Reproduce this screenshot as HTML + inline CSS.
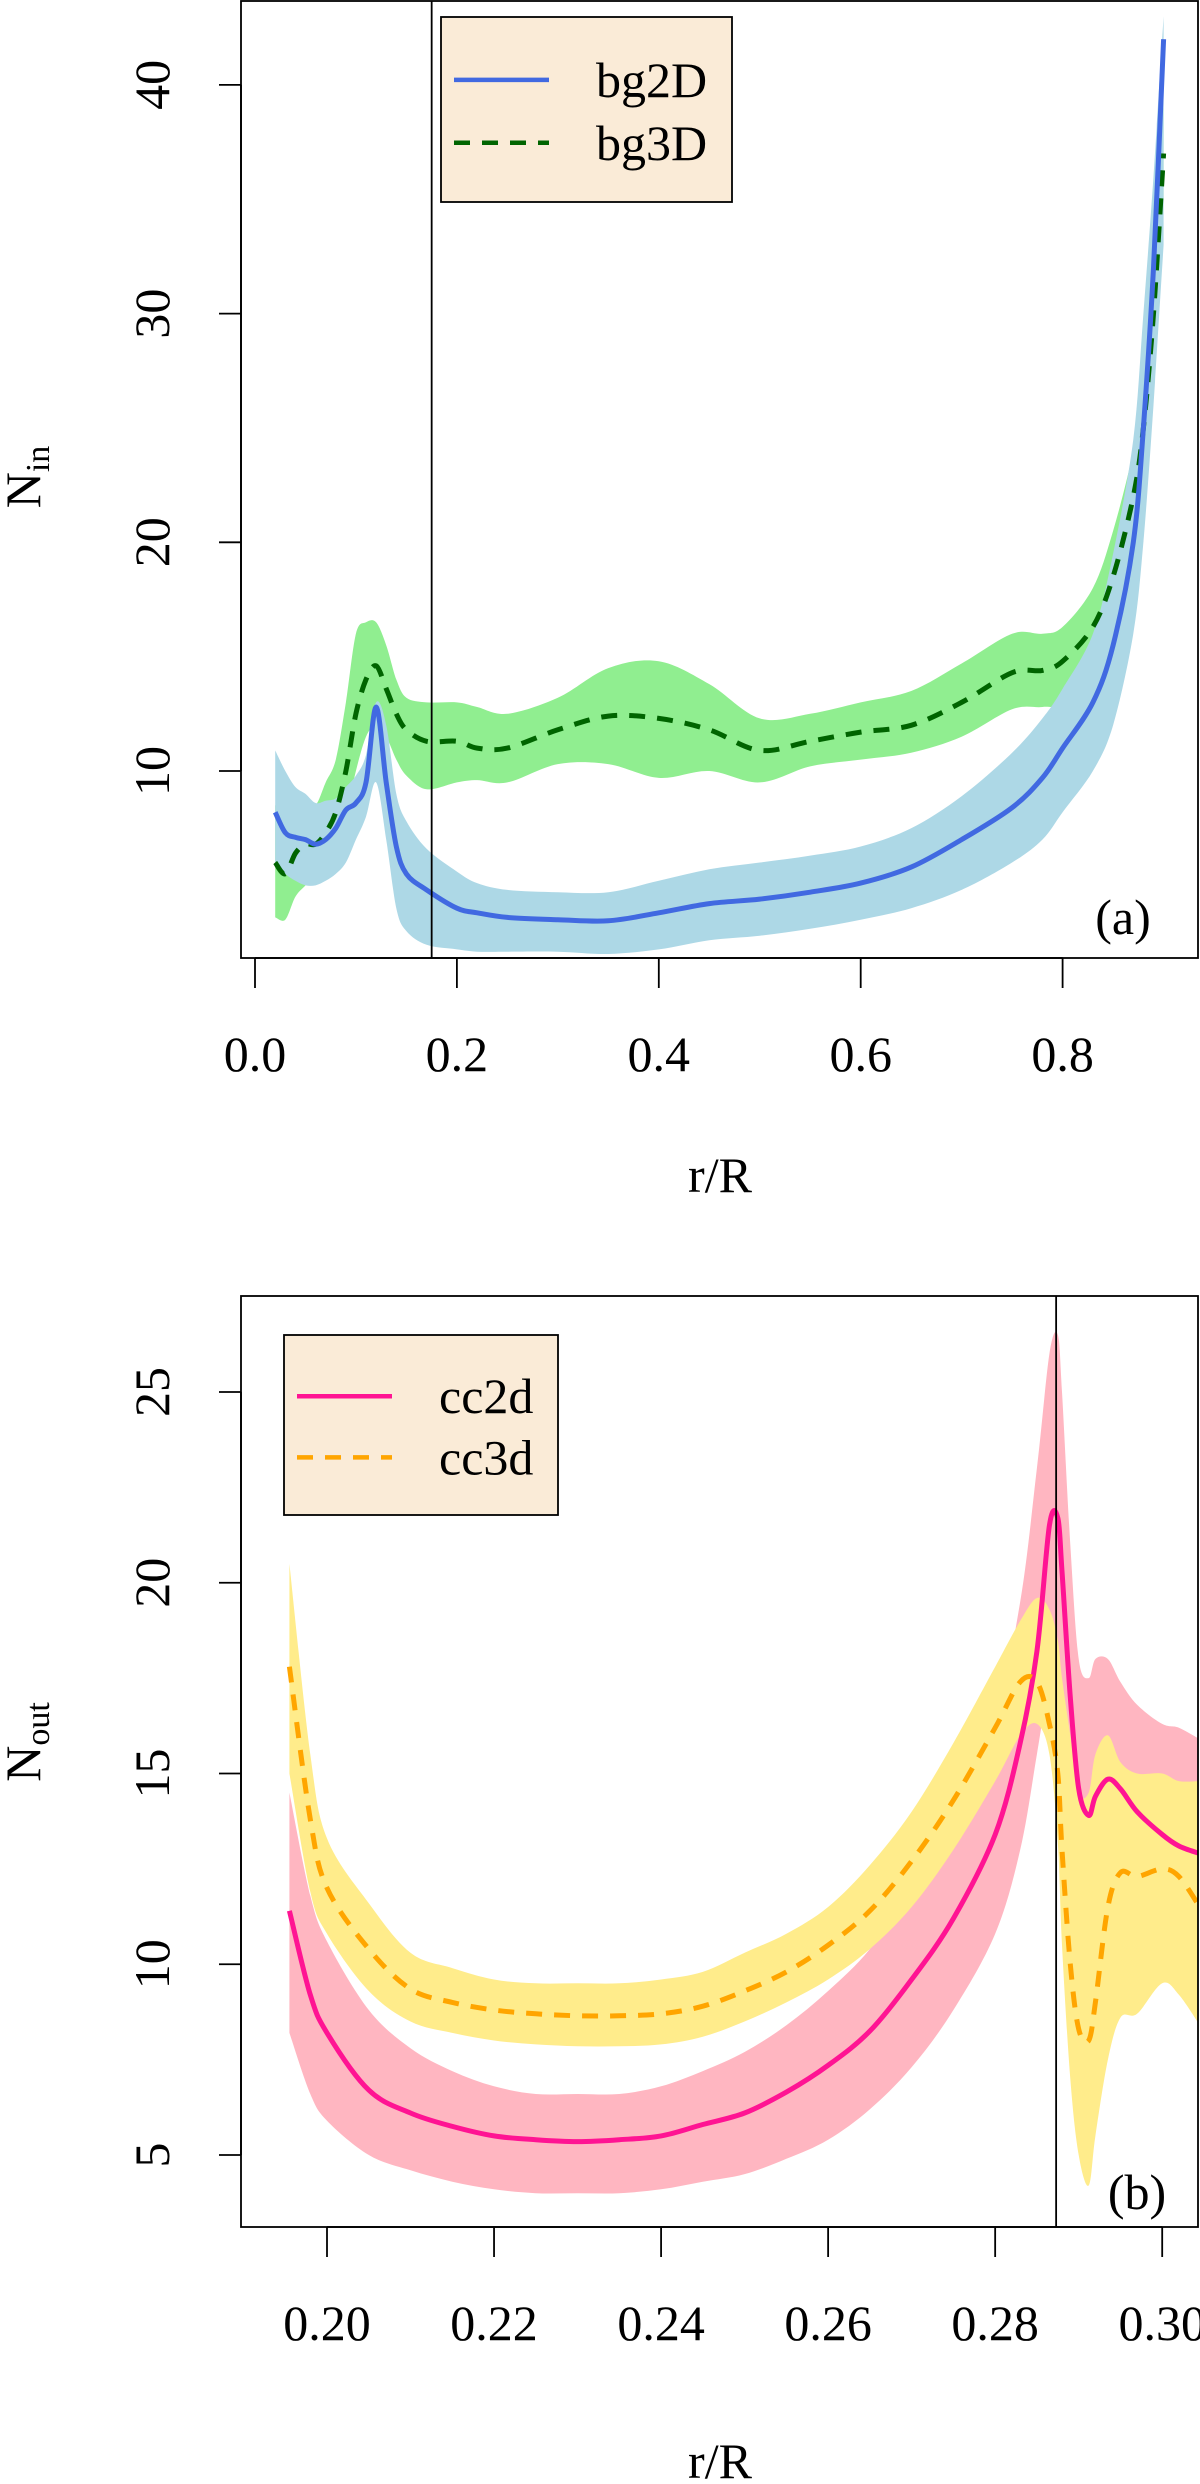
<!DOCTYPE html>
<html><head><meta charset="utf-8">
<style>
html,body{margin:0;padding:0;background:#fff;}
svg{display:block;}
svg text{font-family:"Liberation Serif","DejaVu Serif",serif;}
</style></head>
<body>
<svg id="fig" width="1200" height="2484" viewBox="0 0 1200 2484" xmlns="http://www.w3.org/2000/svg">
<defs>
<clipPath id="clipA"><rect x="241" y="1" width="957" height="957"/></clipPath>
<clipPath id="clipB"><rect x="241" y="1296" width="957" height="931"/></clipPath>
</defs>
<g id="panelA"></g>
<g id="panelB"></g>
</svg>
<script>
// ---- Panel (a) data ----
const xA = [0.02,0.03,0.04,0.05,0.06,0.07,0.08,0.09,0.10,0.11,0.12,0.13,0.14,0.15,0.17,0.2,0.22,0.25,0.3,0.35,0.4,0.45,0.5,0.55,0.6,0.65,0.7,0.75,0.78,0.8,0.83,0.85,0.87,0.88,0.89,0.9];
const bg2dMid = [8.2,7.3,7.1,7.0,6.8,7.0,7.5,8.3,8.6,9.5,12.8,9.5,6.7,5.5,4.8,4.0,3.8,3.6,3.5,3.45,3.8,4.2,4.4,4.7,5.1,5.8,7.0,8.4,9.7,11.0,13.0,15.5,20,25,32,42];
const bg2dLo = [6,5.5,5.2,5,5,5.2,5.5,6,7,8,9.5,7,4,3,2.4,2.2,2.1,2.1,2.1,2.0,2.2,2.6,2.8,3.1,3.5,4.0,4.8,6.0,7.0,8.2,10,12,16,20,26,33];
const bg2dHi = [10.9,10,9.3,9,8.6,8.7,8.8,9.3,9.8,10.7,13,12,9,7.8,6.6,5.6,5.1,4.8,4.7,4.7,5.2,5.7,6,6.3,6.7,7.5,8.9,10.8,12.3,13.6,16,19.5,24.5,30,36,43];
const bg3dMid = [6,5.5,6.4,6.8,6.8,7.3,8.2,10,12.5,14,14.6,13.6,12.5,11.8,11.3,11.3,11.0,11.0,11.8,12.4,12.3,11.8,10.9,11.3,11.7,12.0,13.0,14.3,14.4,14.8,16.3,18.5,22,25,30,37];
const bg3dLo = [3.6,3.5,4.5,5,5.5,6,6.8,8,10,11.5,12,11.5,10.5,9.8,9.2,9.5,9.6,9.5,10.3,10.3,9.7,10.0,9.5,10.2,10.5,10.8,11.5,12.7,12.8,13.0,14.8,17,20.5,23.5,28,35];
const bg3dHi = [8.5,8,8.3,8.6,8.5,9.5,10.5,13,16,16.5,16.5,15.5,14,13.2,13,13,12.8,12.5,13.2,14.5,14.8,13.8,12.3,12.5,13,13.5,14.7,16,16,16.3,18,20.5,24,27,32,39];
const xTicksA = [0.0,0.2,0.4,0.6,0.8];
const xTickLabelsA = ["0.0","0.2","0.4","0.6","0.8"];
const yTicksA = [10,20,30,40];
const yTickLabelsA = ["10","20","30","40"];
const vlineA = 0.175;

// ---- Panel (b) data ----
const xB = [0.1955,0.198,0.2,0.205,0.21,0.215,0.22,0.225,0.23,0.235,0.24,0.245,0.25,0.255,0.26,0.265,0.27,0.275,0.28,0.283,0.285,0.2865,0.2875,0.288,0.289,0.29,0.2912,0.292,0.2935,0.295,0.297,0.3,0.302,0.3045];
const cc2dMid = [11.4,9.2,8.2,6.7,6.1,5.75,5.5,5.4,5.35,5.4,5.5,5.8,6.1,6.65,7.35,8.25,9.6,11.2,13.4,15.8,18.2,21.5,21.7,20.3,17,14.6,13.9,14.4,14.85,14.6,14.0,13.4,13.1,12.9];
const cc2dLo = [8.2,6.6,5.9,5.0,4.6,4.3,4.1,4.0,4.0,4.0,4.1,4.3,4.5,4.9,5.4,6.2,7.3,8.8,10.8,13,15.5,17.5,18,16.5,13.5,12,11.8,12,12,11.8,11.5,11.2,11,10.8];
const cc2dHi = [14.5,11.8,10.6,8.8,7.8,7.2,6.8,6.6,6.6,6.6,6.8,7.2,7.7,8.4,9.3,10.4,12,14,16.5,19.5,23,26,26.5,25,21,18,17.5,18,18,17.4,16.8,16.3,16.2,15.9];
const cc3dMid = [17.8,13.8,12,10.4,9.35,9.0,8.8,8.7,8.65,8.65,8.7,8.9,9.3,9.8,10.5,11.4,12.7,14.3,16.2,17.4,17.4,16.3,15.0,13,10,8.3,8.0,9.0,11.5,12.4,12.3,12.5,12.3,11.5];
const cc3dLo = [15,11.9,10.8,9.3,8.5,8.2,8.0,7.9,7.85,7.85,7.9,8.1,8.5,9.0,9.6,10.4,11.5,13,14.8,16,16.3,15.5,13.2,10.5,7,5,4.2,5.5,7.5,8.6,8.7,9.5,9.2,8.4];
const cc3dHi = [20.5,15.5,13.3,11.6,10.3,9.9,9.6,9.5,9.5,9.5,9.6,9.8,10.3,10.8,11.5,12.6,14,15.8,17.8,19,19.6,19.3,18.5,17.5,16,14.5,14.5,15.5,16,15.3,15,15,14.8,14.8];
const xTicksB = [0.20,0.22,0.24,0.26,0.28,0.30];
const xTickLabelsB = ["0.20","0.22","0.24","0.26","0.28","0.30"];
const yTicksB = [5,10,15,20,25];
const yTickLabelsB = ["5","10","15","20","25"];
const vlineB = 0.2873;

const NS = "http://www.w3.org/2000/svg";
const FF = '"Liberation Serif", "DejaVu Serif", serif';
const FS = 50;
function mk(parent, tag, attrs, text) {
  const e = document.createElementNS(NS, tag);
  for (const k in attrs) e.setAttribute(k, attrs[k]);
  if (tag === "text") e.setAttribute("font-family", FF);
  if (text !== undefined) e.textContent = text;
  parent.appendChild(e);
  return e;
}
// Catmull-Rom smoothing through projected points
function smooth(pts, start) {
  let d = (start ? "M" : "L") + pts[0][0].toFixed(1) + "," + pts[0][1].toFixed(1);
  for (let i = 0; i < pts.length - 1; i++) {
    const p0 = pts[Math.max(0, i - 1)], p1 = pts[i], p2 = pts[i + 1], p3 = pts[Math.min(pts.length - 1, i + 2)];
    const c1x = p1[0] + (p2[0] - p0[0]) / 6, c1y = p1[1] + (p2[1] - p0[1]) / 6;
    const c2x = p2[0] - (p3[0] - p1[0]) / 6, c2y = p2[1] - (p3[1] - p1[1]) / 6;
    d += " C" + c1x.toFixed(1) + "," + c1y.toFixed(1) + " " + c2x.toFixed(1) + "," + c2y.toFixed(1) + " " + p2[0].toFixed(1) + "," + p2[1].toFixed(1);
  }
  return d;
}
function linePath(xs, ys, sx, sy) {
  return smooth(xs.map((x, i) => [sx(x), sy(ys[i])]), true);
}
function bandPath(xs, lo, hi, sx, sy) {
  const up = xs.map((x, i) => [sx(x), sy(hi[i])]);
  const dn = xs.map((x, i) => [sx(x), sy(lo[i])]).reverse();
  return smooth(up, true) + " " + smooth(dn, false) + " Z";
}

function drawPanel(g, cfg) {
  const box = cfg.box;
  const sx = cfg.sx, sy = cfg.sy;
  const plot = mk(g, "g", {"clip-path": "url(#" + cfg.clip + ")"});
  
  
  cfg.series.forEach(s => {
    const b = mk(plot, "path", {d: bandPath(cfg.xs, s.lo, s.hi, sx, sy), fill: s.band, stroke: "none"});
    
    
  });
  cfg.series.forEach(s => {
    const l = mk(plot, "path", {d: linePath(cfg.xs, s.mid, sx, sy), fill: "none", stroke: s.color, "stroke-width": 5, "stroke-dasharray": s.dash || "none", "stroke-linejoin": "round"});
    
    
  });
  const vl = mk(g, "line", {x1: sx(cfg.vline), x2: sx(cfg.vline), y1: box.y, y2: box.y + box.h, stroke: "#000", "stroke-width": 1.8});
  
  
  const fr = mk(g, "rect", {x: box.x, y: box.y, width: box.w, height: box.h, fill: "none", stroke: "#000", "stroke-width": 1.8});
  
  
  const xa = mk(g, "g", {});
  
  
  const yb = box.y + box.h;
  mk(xa, "line", {x1: sx(cfg.xt[0]), x2: sx(cfg.xt[cfg.xt.length - 1]), y1: yb, y2: yb, stroke: "#000", "stroke-width": 1.8});
  cfg.xt.forEach((v, i) => {
    mk(xa, "line", {x1: sx(v), x2: sx(v), y1: yb, y2: yb + 30, stroke: "#000", "stroke-width": 1.8});
    const t = mk(xa, "text", {x: sx(v), y: yb + 113, "font-size": FS, "text-anchor": "middle"}, cfg.xtl[i]);
    
    
  });
  const xt = mk(g, "text", {x: 720, y: cfg.xTitleY, "font-size": FS, "text-anchor": "middle"}, "r/R");
  
  
  const ya = mk(g, "g", {});
  
  
  mk(ya, "line", {x1: box.x, x2: box.x, y1: sy(cfg.yt[0]), y2: sy(cfg.yt[cfg.yt.length - 1]), stroke: "#000", "stroke-width": 1.8});
  cfg.yt.forEach((v, i) => {
    mk(ya, "line", {x1: box.x - 22, x2: box.x, y1: sy(v), y2: sy(v), stroke: "#000", "stroke-width": 1.8});
    const t = mk(ya, "text", {x: 0, y: 0, "font-size": FS, "text-anchor": "middle", transform: "translate(" + (box.x - 72) + "," + sy(v) + ") rotate(-90)"}, cfg.ytl[i]);
    
    
  });
  const yt = mk(g, "text", {x: 0, y: 0, "font-size": FS, "text-anchor": "middle", transform: "translate(40," + cfg.yTitleY + ") rotate(-90)"});
  
  
  mk(yt, "tspan", {}, "N");
  mk(yt, "tspan", {"font-size": 34, dy: 9}, cfg.sub);
  const pl = mk(g, "text", {x: cfg.lab.x, y: cfg.lab.y, "font-size": FS, "text-anchor": "middle"}, cfg.lab.t);
  
  
  const L = cfg.leg;
  const lg = mk(g, "g", {});
  
  
  mk(lg, "rect", {x: L.x, y: L.y, width: L.w, height: L.h, fill: "#FAEBD7", stroke: "#000", "stroke-width": 1.8});
  cfg.legOrder.forEach((s, i) => {
    const ey = L.y + L.h * (0.34 + 0.34 * i);
    const e = mk(lg, "g", {});
    
    
    mk(e, "line", {x1: L.x + 13, x2: L.x + 108, y1: ey, y2: ey, stroke: s.color, "stroke-width": 4.5, "stroke-dasharray": s.dash || "none"});
    mk(e, "text", {x: L.x + 155, y: ey + 17, "font-size": FS}, s.label);
  });
}

const sBg2 = {name: "bg2d", label: "bg2D", mid: bg2dMid, lo: bg2dLo, hi: bg2dHi, color: "#4169E1", band: "#ADD8E6"};
const sBg3 = {name: "bg3d", label: "bg3D", mid: bg3dMid, lo: bg3dLo, hi: bg3dHi, color: "#006400", band: "#90EE90", dash: "16 12"};
drawPanel(document.getElementById("panelA"), {
  box: {x: 241, y: 1, w: 957, h: 957}, clip: "clipA", xs: xA,
  sx: v => 255 + v * 1009.5,
  sy: v => 771 - (v - 10) * 22.87,
  series: [sBg3, sBg2], legOrder: [sBg2, sBg3],
  vline: vlineA, xt: xTicksA, xtl: xTickLabelsA, yt: yTicksA, ytl: yTickLabelsA,
  xTitleY: 1192, yTitleY: 477, sub: "in",
  lab: {x: 1123, y: 934, t: "(a)"},
  leg: {x: 441, y: 17, w: 291, h: 185}
});
const sCc2 = {name: "cc2d", label: "cc2d", mid: cc2dMid, lo: cc2dLo, hi: cc2dHi, color: "#FF1493", band: "#FFB6C1"};
const sCc3 = {name: "cc3d", label: "cc3d", mid: cc3dMid, lo: cc3dLo, hi: cc3dHi, color: "#FFA500", band: "#FFEC8B", dash: "16 12"};
drawPanel(document.getElementById("panelB"), {
  box: {x: 241, y: 1296, w: 957, h: 931}, clip: "clipB", xs: xB,
  sx: v => 327 + (v - 0.2) * 8352,
  sy: v => 2155 - (v - 5) * 38.15,
  series: [sCc2, sCc3], legOrder: [sCc2, sCc3],
  vline: vlineB, xt: xTicksB, xtl: xTickLabelsB, yt: yTicksB, ytl: yTickLabelsB,
  xTitleY: 2478, yTitleY: 1742, sub: "out",
  lab: {x: 1137, y: 2209, t: "(b)"},
  leg: {x: 284, y: 1335, w: 274, h: 180}
});
</script>
</body></html>
